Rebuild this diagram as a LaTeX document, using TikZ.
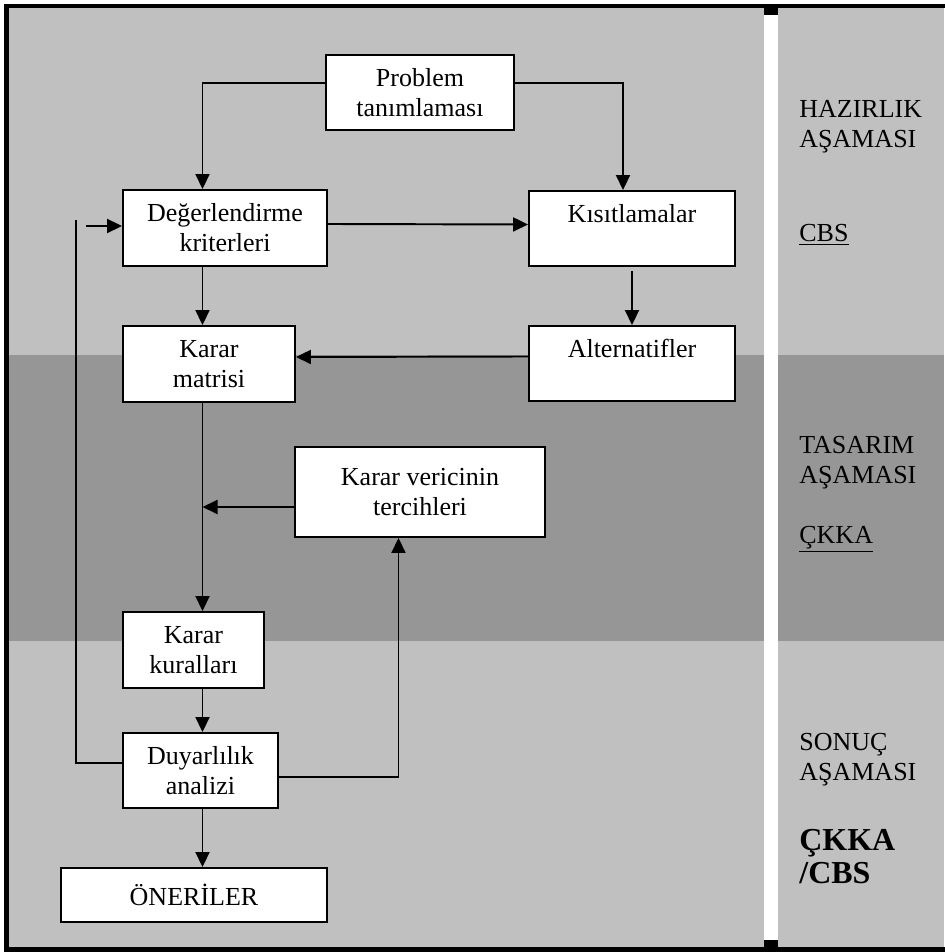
\documentclass[tikz,border=0pt]{standalone}
\usepackage{fontspec}
\setmainfont{Liberation Serif}
\usetikzlibrary{arrows.meta,calc}

\definecolor{lightband}{HTML}{C0C0C0}
\definecolor{darkband}{HTML}{969696}

\begin{document}
\begin{tikzpicture}[x=0.02cm,y=-0.02cm,
  stage/.style={draw,fill=white,line width=1.1pt,align=center,inner sep=0pt,
    font=\fontsize{14.8}{17.1}\selectfont},
  link/.style={line width=1.1pt,-{Triangle[length=0.3cm,width=0.28cm]}},
  wire/.style={line width=1.1pt},
  phase/.style={anchor=base west,inner sep=0pt,font=\fontsize{14.8}{17.1}\selectfont},
  tool/.style={anchor=base west,inner sep=0pt,font=\fontsize{18.2}{20}\selectfont\bfseries}]
\useasboundingbox (0,0) rectangle (944,952);
% bands
\fill[lightband] (8,8) rectangle (944,947);
\fill[darkband] (8,355) rectangle (944,641);
\fill[white] (764,8) rectangle (778,947);
\fill (764,8) rectangle (778,15);
\fill (764,940) rectangle (778,947);
\draw[line width=0.09cm] (6.5,6) rectangle (960,949.5);

% boxes
\node[stage,minimum width=3.76cm,minimum height=1.5cm]  (prob)   at (420,92.5)  {Problem\\tanımlaması};
\node[stage,minimum width=4.08cm,minimum height=1.52cm] (deger)  at (225,228)   {Değerlendirme\\kriterleri};
\node[stage,minimum width=4.12cm,minimum height=1.5cm]  (kisit)  at (632,228.5) {Kısıtlamalar\\~};
\node[stage,minimum width=3.44cm,minimum height=1.52cm] (matris) at (209,364)   {Karar\\matrisi};
\node[stage,minimum width=4.12cm,minimum height=1.5cm]  (alt)    at (632,363.5) {Alternatifler\\~};
\node[stage,minimum width=5cm,minimum height=1.8cm]     (tercih) at (420,492)   {Karar vericinin\\tercihleri};
\node[stage,minimum width=2.82cm,minimum height=1.52cm] (kural)  at (193.5,650) {Karar\\kuralları};
\node[stage,minimum width=3.1cm,minimum height=1.5cm]   (duyar)  at (200.5,770.5) {Duyarlılık\\analizi};
\node[stage,minimum width=5.32cm,minimum height=1.08cm] (oner)   at (194,895)   {ÖNERİLER};

% connectors
\coordinate (spine) at (202.5,0);
\draw[link] ($(prob.west)+(0,-9.5)$) -| (deger.north -| spine);
\draw[link] ($(prob.east)+(0,-9.5)$) -| ($(kisit.north)+(-9,0)$);
\draw[link] ($(deger.east)+(0,-4)$) -- ($(kisit.west)+(0,-4)$);
\draw[link] (deger.south -| spine) -- (matris.north -| spine);
\draw[link] ($(kisit.south)+(0,4)$) -- (alt.north);
\draw[link] ($(alt.west)+(0,-7)$) -- ($(matris.east)+(0,-7)$);
\draw[link] (matris.south -| spine) -- (kural.north -| spine);
\draw[link] ($(tercih.west)+(0,15)$) coordinate (tw) -- (tw -| spine);
\draw[link] (kural.south -| spine) -- (duyar.north -| spine);
\draw[link] (duyar.south -| spine) -- (oner.north -| spine);
\draw[link] ($(duyar.east)+(0,6.5)$) -| ($(tercih.south)+(-21.5,0)$);
\coordinate (loopend) at (76,220);
\coordinate (loopin) at (86,226);
\draw[wire] ($(duyar.west)+(0,-7.5)$) -| (loopend);
\draw[link] (loopin) -- (deger.west |- loopin);

% phases
\node[phase] (haz1) at (799,118) {HAZIRLIK};
\node[phase] (haz2) at (799,148) {AŞAMASI};
\node[phase] (cbs)  at (799,242) {\underline{CBS}};
\node[phase] (tas1) at (799,453) {TASARIM};
\node[phase] (tas2) at (799,483) {AŞAMASI};
\node[phase] (ckka) at (799,543) {\underline{ÇKKA}};
\node[phase] (son1) at (799,750) {SONUÇ};
\node[phase] (son2) at (799,780) {AŞAMASI};
\node[tool]  (res1) at (799,850) {ÇKKA};
\node[tool]  (res2) at (799,883) {/CBS};
\end{tikzpicture}
\end{document}
